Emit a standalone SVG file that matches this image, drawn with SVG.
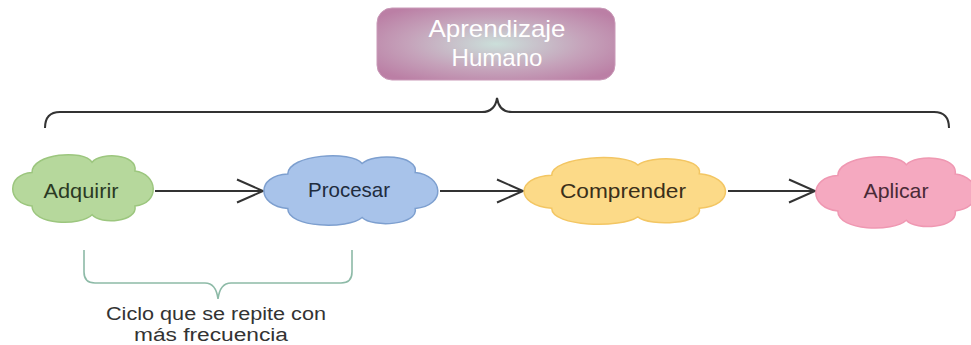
<svg xmlns="http://www.w3.org/2000/svg" width="971" height="345" viewBox="0 0 971 345">
  <style>
    .label { font-family: "Liberation Sans", Arial, sans-serif; font-size: 21px; text-anchor: middle; }
    .title { font-family: "Liberation Sans", Arial, sans-serif; font-size: 24px; text-anchor: middle; fill: #ffffff; }
    .note { font-family: "Liberation Sans", Arial, sans-serif; font-size: 18px; text-anchor: middle; fill: #333333; }
    .link { fill: none; stroke: #333333; stroke-width: 2; marker-end: url(#open-arrow); }
    .brace { fill: none; stroke: #333333; stroke-width: 2; }
    .cloud { stroke-width: 1.5; }
  </style>
  <defs>
    <!-- unit cloud outline, drawn in a 100 x 100 box -->
    <path id="cloud-shape" vector-effect="non-scaling-stroke"
      d="M14,28 C14,2 50,-4 56,14 C62,0 88,2 86,26 C102,30 104,70 86,74 C88,96 62,100 56,86 C48,102 14,100 14,74 C-4,70 -4,30 14,28 Z"/>
    <radialGradient id="title-fill" cx="50%" cy="50%" r="62%">
      <stop offset="0" stop-color="#cbdfda"/>
      <stop offset="0.6" stop-color="#c5a2ba"/>
      <stop offset="1" stop-color="#bb7fa5"/>
    </radialGradient>
    <marker id="open-arrow" markerUnits="userSpaceOnUse" markerWidth="30" markerHeight="26"
      refX="27" refY="12" orient="auto" overflow="visible">
      <path d="M1,0.5 L27,12 L1,23.5" fill="none" stroke="#333333" stroke-width="2"/>
    </marker>
  </defs>

  <!-- title -->
  <g id="aprendizaje-humano">
    <rect x="377" y="8" width="238" height="72" rx="15" ry="15" fill="url(#title-fill)" stroke="#c99ab8" stroke-width="1"/>
    <text class="title" x="497" y="37" textLength="137" lengthAdjust="spacingAndGlyphs">Aprendizaje</text>
    <text class="title" x="497" y="66" textLength="91" lengthAdjust="spacingAndGlyphs">Humano</text>
  </g>

  <!-- braces -->
  <g id="braces">
    <path class="brace" d="M45,128 Q45,112 60,112 L482,112 Q495,112 497,98 Q499,112 512,112 L934,112 Q949,112 949,128"/>
    <path fill="none" stroke="#8dbaa7" stroke-width="1.6"
      d="M84,250 L84,272 Q84,283 95,283 L205,283 Q216,283 218,299 Q220,283 231,283 L341,283 Q352,283 352,272 L352,250"/>
  </g>

  <!-- connectors -->
  <g id="connectors">
    <line class="link" x1="155" y1="191" x2="263" y2="191"/>
    <line class="link" x1="440" y1="191" x2="523" y2="191"/>
    <line class="link" x1="728" y1="191" x2="815" y2="191"/>
  </g>

  <!-- steps -->
  <g id="adquirir">
    <use href="#cloud-shape" class="cloud" transform="translate(12,152) scale(1.43,0.73)" fill="#b6d89c" stroke="#9cc67e"/>
    <text class="label" x="81" y="198" fill="#2b3a24" textLength="75" lengthAdjust="spacingAndGlyphs">Adquirir</text>
  </g>
  <g id="procesar">
    <use href="#cloud-shape" class="cloud" transform="translate(263,153) scale(1.77,0.75)" fill="#a8c3ea" stroke="#7d9fcf"/>
    <text class="label" x="349" y="197" fill="#1f2c3e" textLength="82" lengthAdjust="spacingAndGlyphs">Procesar</text>
  </g>
  <g id="comprender">
    <use href="#cloud-shape" class="cloud" transform="translate(523,155) scale(2.05,0.72)" fill="#fcda88" stroke="#f3c663"/>
    <text class="label" x="623" y="198" fill="#3a2f1a" textLength="126" lengthAdjust="spacingAndGlyphs">Comprender</text>
  </g>
  <g id="aplicar">
    <use href="#cloud-shape" class="cloud" transform="translate(815,154) scale(1.63,0.77)" fill="#f5a9c0" stroke="#ef98b2"/>
    <text class="label" x="896" y="198" fill="#4a2a36" textLength="65" lengthAdjust="spacingAndGlyphs">Aplicar</text>
  </g>

  <!-- note under the first two steps -->
  <g id="ciclo-nota">
    <text class="note" x="216" y="320" textLength="220" lengthAdjust="spacingAndGlyphs">Ciclo que se repite con</text>
    <text class="note" x="211" y="341" textLength="154" lengthAdjust="spacingAndGlyphs">más frecuencia</text>
  </g>
</svg>
